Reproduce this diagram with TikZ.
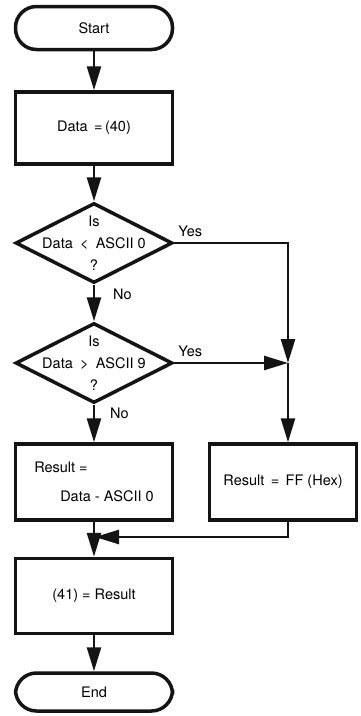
\documentclass[tikz,border=0pt]{standalone}
\usepackage{fontspec}
\setmainfont{TeX Gyre Heros}
\usetikzlibrary{shapes.geometric, arrows.meta, positioning, calc}
\definecolor{myink}{RGB}{20,20,20}
\tikzset{
  terminal/.style={rectangle, draw=myink, rounded corners=21pt,
    minimum width=157pt, minimum height=43pt, inner sep=0pt,
    line width=3.5pt, font=\fontsize{14.5}{17}\selectfont},
  procbox/.style={rectangle, draw=myink, minimum width=157pt,
    minimum height=76pt, inner sep=0pt, line width=3.5pt,
    font=\fontsize{14.5}{17}\selectfont},
  decision/.style={diamond, draw=myink, minimum width=157pt,
    minimum height=80pt, inner sep=0pt, line width=3.5pt},
  dtext/.style={align=center, font=\fontsize{14.5}{22}\selectfont},
  branch/.style={font=\fontsize{14.5}{17}\selectfont, inner sep=0pt},
  arrow/.style={-{Triangle[length=24pt,width=14pt]}, line width=2.5pt, color=myink},
  line/.style={line width=2.5pt, color=myink}
}

\begin{document}
\begin{tikzpicture}[x=1pt, y=-1pt]
  \useasboundingbox (0,0) rectangle (360,716);
  % main column
  \node[terminal] (start) at (94,28) {Start};
  \node[procbox, minimum height=72pt] (load) at (94,128) {Data \,=\,(40)};
  \node[decision] (lo) at (94,243) {};
  \node[dtext] (lotxt) at (lo.center) {Is\\Data\enspace<\enspace ASCII 0\\?};
  \node[decision] (hi) at (94,363) {};
  \node[dtext] (hitxt) at (hi.center) {Is\\Data\enspace>\enspace ASCII 9\\?};
  \node[procbox, align=left] (conv) at (94,482)
    {Result =\\[12pt]\hspace*{26pt}Data - ASCII 0};
  \node[procbox, minimum width=147pt] (bad) at (283,482) {Result \,=\, FF (Hex)};
  \node[procbox, minimum height=75pt] (store) at (94,596) {(41) = Result};
  \node[terminal, minimum height=38pt] (stop) at (94,692) {End};
  \coordinate (jn) at (288,363);
  \coordinate (mg) at (94,537);
  % connectors
  \draw[arrow] (start) -- (load);
  \draw[arrow] (load) -- (lo);
  \draw[arrow] (lo) -- (hi);
  \draw[arrow] (hi) -- (conv);
  \draw[arrow] (conv) -- (store);
  \draw[arrow] (store) -- (stop);
  \draw[arrow] (lo.east) -- (lo.east -| jn) -- (jn);
  \draw[arrow] (hi.east) -- (jn);
  \draw[arrow] (jn) -- (bad.north -| jn);
  \draw[arrow, shorten >=1pt] (bad.south -| jn) -- (jn |- mg) -- (mg);
  % branch labels
  \node[branch, anchor=south west] (yes1) at ($(lo.east)+(4,-6)$) {Yes};
  \node[branch, anchor=south west] (yes2) at ($(hi.east)+(4,-6)$) {Yes};
  \node[branch, anchor=north west] (no1) at ($(lo.south)+(19,4)$) {No};
  \node[branch, anchor=north west] (no2) at ($(hi.south)+(16,3)$) {No};
\end{tikzpicture}
\end{document}
